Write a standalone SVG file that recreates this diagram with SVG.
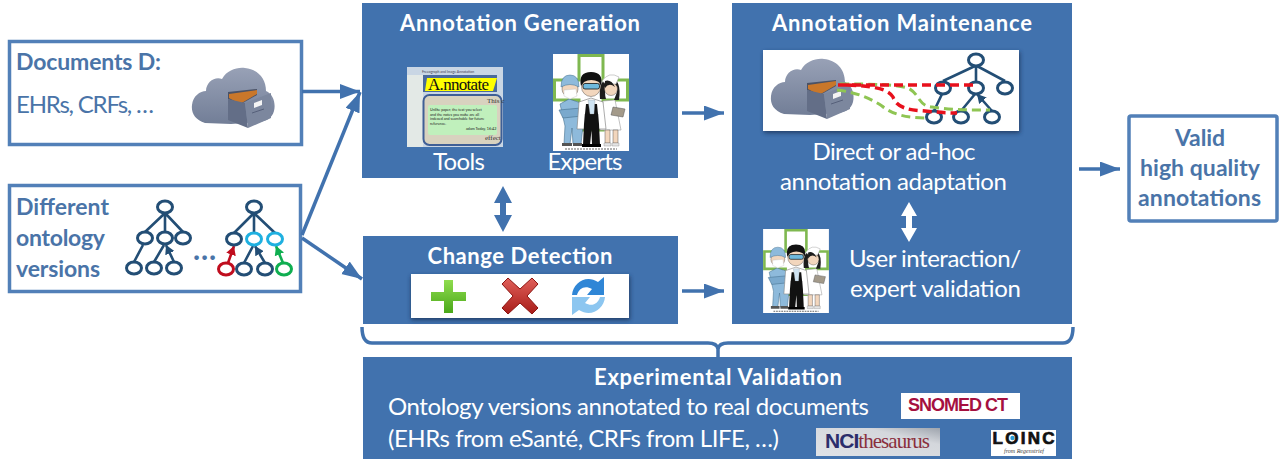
<svg xmlns="http://www.w3.org/2000/svg" xmlns:xlink="http://www.w3.org/1999/xlink" width="1284" height="467" viewBox="0 0 1284 467">
<style>
text{font-family:"Lato","Open Sans","Liberation Sans",sans-serif}
.blue{fill:#4172ae}
.out{fill:#fff;stroke:#5280b8;stroke-width:3.5}
.h{fill:#fff;font-weight:700;font-size:22px;text-anchor:middle}
.w{fill:#fff;font-size:24px}
.wm{fill:#fff;font-size:24px;text-anchor:middle}
.bl{fill:#4a74a8;font-weight:700;font-size:23px}
.rg{fill:#4a74a8;font-size:24px}
.cn{fill:none;stroke:#4172ae;stroke-width:3.5}
.tn{fill:#fff;stroke:#234e75;stroke-width:3}
.ed{fill:none;stroke:#234e75;stroke-width:2.6;marker-end:url(#t)}
.dr{fill:none;stroke:#e8101c;stroke-width:3.5;stroke-dasharray:9 5}
.dg{fill:none;stroke:#8fc553;stroke-width:3;stroke-dasharray:9 5}
.sk{fill:#f2d6bd;stroke:#333;stroke-width:.4}
</style>
<defs>
<marker id="a" markerUnits="userSpaceOnUse" markerWidth="22" markerHeight="16" refX="20" refY="7.500" orient="auto"><path d="M0 0L20 7.500L0 15Z" fill="#4172ae"/></marker>
<marker id="t" markerUnits="userSpaceOnUse" markerWidth="10" markerHeight="10" refX="9" refY="5" orient="auto"><path d="M0 0L9 5L0 10Z" fill="#234e75"/></marker>
<marker id="tr" markerUnits="userSpaceOnUse" markerWidth="10" markerHeight="10" refX="9" refY="5" orient="auto"><path d="M0 0L9 5L0 10Z" fill="#c00d1e"/></marker>
<marker id="tg" markerUnits="userSpaceOnUse" markerWidth="10" markerHeight="10" refX="9" refY="5" orient="auto"><path d="M0 0L9 5L0 10Z" fill="#0fae50"/></marker>
<filter id="sh" x="-10%" y="-20%" width="120%" height="140%"><feGaussianBlur stdDeviation="2"/></filter>
<linearGradient id="gc" x1="0" y1="0" x2="0" y2="1"><stop offset="0" stop-color="#98a1b6"/><stop offset="1" stop-color="#727e97"/></linearGradient>
<linearGradient id="gp" x1="0" y1="0" x2="0" y2="1"><stop offset="0" stop-color="#8fdc4e"/><stop offset="1" stop-color="#4aa81a"/></linearGradient>
<linearGradient id="gx" x1="0" y1="0" x2="0" y2="1"><stop offset="0" stop-color="#e0605a"/><stop offset="1" stop-color="#a81c18"/></linearGradient>
<linearGradient id="gn" x1="0" y1="1" x2="1" y2="0"><stop offset="0" stop-color="#dfe2e6"/><stop offset=".7" stop-color="#d4d7dc"/><stop offset="1" stop-color="#9ea4ad"/></linearGradient>
<symbol id="cloud" viewBox="0 0 85 63" overflow="visible">
<path d="M14 56C4 53 0 46 1 38C2 29 9 24 15 24C15 15 24 9 31 12C36 3 46 0 54 1C66 2 75 11 75 24C82 27 85 36 83 44C81 51 76 54 68 55L40 57Z" fill="url(#gc)"/>
<path d="M37 25L66 22V28L50 37L37 32Z" fill="#4a5266"/>
<path d="M38 27L66 23V27L49 37L38 31Z" fill="#c9772a"/>
<path d="M37 32L54 36L57 61L37 53Z" fill="#636e87"/>
<path d="M54 36L80 26V51L57 61Z" fill="#7c879e"/>
<path d="M63 36L71 33V38L63 41Z" fill="#f4f4f4"/>
<path d="M61 46L73 42" stroke="#56607a" stroke-width="1"/>
</symbol>
<symbol id="docs" viewBox="0 0 76 97" overflow="visible">
<rect width="76" height="97" fill="#fff"/>
<path d="M26 1.500H50V26H74.500V46H50V76H26V46H1.500V26H26Z" fill="#fff" stroke="#7fb850" stroke-width="3"/>
<path d="M7 50L16 45L28 49L30 72L28 90H20L19 74L17 90H11L12 72Z" fill="#8ebadb" stroke="#44708f" stroke-width=".6"/>
<path d="M6 56L28 54L29 62L10 64Z" fill="#7aa9cd" stroke="#44708f" stroke-width=".6"/>
<circle class="sk" cx="17" cy="35" r="8"/><path d="M8 33Q8 21 17 21Q26 21 26 33Q17 28 8 33Z" fill="#8ebadb" stroke="#44708f" stroke-width=".5"/>
<path d="M11 36L23 35L24 42L17 45L11 42Z" fill="#fff" stroke="#bbb" stroke-width=".4"/>
<path d="M9 89H19V92H9ZM20 89H29V92H20Z" fill="#555"/>
<path d="M50 47L62 46L68 76H47Z" fill="#fff" stroke="#999" stroke-width=".6"/>
<path class="sk" d="M52 76H57V89H52ZM60 76H65V89H60Z"/>
<path d="M51 89H58V92H51ZM59 89H66V92H59Z" fill="#e4e4e4" stroke="#888" stroke-width=".4"/>
<path d="M47 45Q45 25 57 24Q69 25 66 46H61L64 38Q60 30 53 32Q51 38 53 45Z" fill="#1c1c1c"/>
<circle class="sk" cx="58" cy="35" r="6.500"/>
<path d="M49 27Q56 17 66 23L63 30H53Z" fill="#fff" stroke="#999" stroke-width=".5"/>
<path d="M52 27Q58 25 62 33Q56 28 52 34Z" fill="#1c1c1c"/>
<path d="M60 53L72 55L70 63L58 61Z" fill="#a39a8a" stroke="#555" stroke-width=".5"/>
<path d="M26 48L38 44L50 48L53 75H45V60H32V75H24Z" fill="#fff" stroke="#888" stroke-width=".7"/>
<path d="M33 50H44L46 70L47 91H39L38.500 76L37 91H30L31 70Z" fill="#111"/>
<path d="M35 46H42L41 60H37Z" fill="#cfe4f3" stroke="#888" stroke-width=".3"/>
<path d="M29 90H39V93H29ZM39 90H48V93H39Z" fill="#000"/>
<circle class="sk" cx="38" cy="33" r="9.500"/>
<path d="M28 32Q25 18 38 18Q51 18 48 32L46 28Q38 24 31 28Z" fill="#111"/>
<rect x="30" y="29.500" width="16.500" height="5.500" rx="2" fill="#6fb9dd" stroke="#111" stroke-width=".8"/>
<path d="M12 95H64" stroke="#666" stroke-width="1.200" stroke-dasharray="2 1"/>
</symbol>
</defs>

<g id="documents">
<rect class="out" x="9.500" y="41.500" width="292" height="103"/>
<text class="bl" x="16" y="70" textLength="145">Documents D:</text>
<text class="rg" x="16" y="113" textLength="138">EHRs, CRFs, …</text>
<use xlink:href="#cloud" href="#cloud" x="191" y="67" width="85" height="63"/>
</g>

<g id="ontology-versions">
<rect class="out" x="9.500" y="185.500" width="291" height="106"/>
<text class="bl" x="16" y="215" textLength="93">Different</text>
<text class="bl" x="16" y="246" textLength="89">ontology</text>
<text class="bl" x="16" y="277" textLength="84">versions</text>
<path class="ed" d="M145 232L164 214M165 232V214M183 232L166 214M134 262L143 245M154 262L164 245M174 262L166 245"/>
<ellipse class="tn" cx="165" cy="207" rx="7.500" ry="6"/><ellipse class="tn" cx="145" cy="238" rx="7.500" ry="6"/><ellipse class="tn" cx="165" cy="238" rx="7.500" ry="6"/><ellipse class="tn" cx="183" cy="238" rx="7.500" ry="6"/><ellipse class="tn" cx="134" cy="268" rx="7.500" ry="6"/><ellipse class="tn" cx="154" cy="268" rx="7.500" ry="6"/><ellipse class="tn" cx="174" cy="268" rx="7.500" ry="6"/>
<text x="204.500" y="260" fill="#4a74a8" font-size="30" font-weight="700" text-anchor="middle">…</text>
<path class="ed" d="M234 233L253 214M254 233V214M275 233L255 214M244 263L253 246M265 263L255 246"/>
<path d="M228 263L234 246" fill="none" stroke="#c00d1e" stroke-width="2.600" marker-end="url(#tr)"/>
<path d="M283 263L276 246" fill="none" stroke="#0fae50" stroke-width="2.600" marker-end="url(#tg)"/>
<ellipse class="tn" cx="254" cy="207" rx="7.500" ry="6"/><ellipse class="tn" cx="234" cy="239" rx="7.500" ry="6"/>
<ellipse cx="254" cy="239" rx="7.500" ry="6" fill="#fff" stroke="#1fb0e0" stroke-width="3"/><ellipse cx="275" cy="239" rx="7.500" ry="6" fill="#fff" stroke="#1fb0e0" stroke-width="3"/>
<ellipse cx="226" cy="269" rx="7.500" ry="6" fill="#fff" stroke="#c00d1e" stroke-width="3"/><ellipse class="tn" cx="244" cy="269" rx="7.500" ry="6"/><ellipse class="tn" cx="265" cy="269" rx="7.500" ry="6"/><ellipse cx="284" cy="269" rx="7.500" ry="6" fill="#fff" stroke="#0fae50" stroke-width="3"/>
</g>

<g id="annotation-generation">
<rect class="blue" x="362" y="3" width="316" height="175"/>
<text class="h" x="520" y="31" textLength="240">Annotation  Generation</text>
<rect x="407" y="67" width="96" height="80" fill="#c9d6e4"/>
<rect x="407" y="75" width="16" height="72" fill="#e3e9e6"/>
<text x="422" y="72.500" font-size="3.500" fill="#445">Freeograph and Image Annotation</text>
<rect x="423" y="75" width="74" height="17" fill="#4a6a9c"/>
<path d="M427 78H497L493 91H425Z" fill="#ffff00"/>
<text x="428" y="90" font-size="17" textLength="61" style="font-family:'Liberation Serif',serif" fill="#111">A.nnotate</text>
<rect x="423.500" y="95" width="78" height="50" rx="6" fill="#d8d2bf" stroke="#3f5f96" stroke-width="2"/>
<rect x="428" y="105" width="69" height="30" rx="2" fill="#c0f0bc"/>
<text x="487" y="103" font-size="7" fill="#333" style="font-family:'Liberation Serif',serif">This c</text>
<text x="485" y="140" font-size="7" fill="#333" style="font-family:'Liberation Serif',serif">effect</text>
<text font-size="3.700" fill="#222"><tspan x="430" y="111">Unlike paper, the text you select</tspan><tspan x="430" y="115.500">and the notes you make are all</tspan><tspan x="430" y="120">indexed and searchable for future</tspan><tspan x="430" y="124.500">reference.</tspan><tspan x="466" y="130">adam Today, 16:42</tspan></text>
<use xlink:href="#docs" href="#docs" x="553" y="54" width="76" height="97"/>
<text class="wm" x="459" y="170" textLength="52">Tools</text>
<text class="wm" x="585" y="170" textLength="75">Experts</text>
</g>

<g id="change-detection">
<rect class="blue" x="363" y="236" width="315" height="88"/>
<text class="h" x="520" y="264" textLength="185">Change Detection</text>
<rect x="411" y="276" width="219" height="44" fill="#1a365c" opacity=".85" filter="url(#sh)"/>
<rect x="411" y="274" width="218" height="44" fill="#fff"/>
<path d="M444 280H453V292H466V301H453V313H444V301H431V292H444Z" fill="url(#gp)"/>
<path d="M508 278L520 289L532 278L538 284L527 296L538 308L532 314L520 303L508 314L502 308L513 296L502 284Z" fill="url(#gx)" stroke="#8c1512" stroke-width="1"/>
<path d="M572 295C573 283 586 274 598 282L604 277V295H587L592 289C585 285 579 288 577 295Z" fill="#2f86d6"/>
<path d="M605 297C604 309 591 318 579 310L572 315V297H590L585 303C592 307 598 304 600 297Z" fill="#8cc6f0"/>
</g>

<g id="annotation-maintenance">
<rect class="blue" x="732" y="3" width="340" height="321"/>
<text class="h" x="902" y="31" textLength="260">Annotation  Maintenance</text>
<rect x="764" y="52" width="256" height="81" fill="#1a365c" opacity=".85" filter="url(#sh)"/>
<rect x="763" y="50" width="256" height="81" fill="#fff"/>
<use xlink:href="#cloud" href="#cloud" x="770" y="58" width="85" height="63"/>
<path class="ed" d="M943 81L975 66M976 81V66M1005 81L977 66M934 111L942 94M961 111L975 94M992 111L977 94"/>
<ellipse class="tn" cx="976" cy="60" rx="7.500" ry="6"/><ellipse class="tn" cx="943" cy="88" rx="7.500" ry="6"/><ellipse class="tn" cx="976" cy="88" rx="7.500" ry="6"/><ellipse class="tn" cx="1005" cy="88" rx="7.500" ry="6"/><ellipse class="tn" cx="934" cy="117" rx="7.500" ry="6"/><ellipse class="tn" cx="961" cy="117" rx="7.500" ry="6"/><ellipse class="tn" cx="992" cy="117" rx="7.500" ry="6"/>
<path class="dg" d="M840 84C870 84 895 84 908 88C920 94 918 106 932 107C950 110 970 110 990 110"/>
<path class="dg" d="M837 90C855 92 870 98 882 106C892 114 905 118 927 118"/>
<path class="dr" d="M838 85H975"/>
<path class="dr" d="M847 85C870 86 888 88 893 97C897 108 908 110 925 111C935 112 945 113 957 113"/>
<text class="wm" x="894" y="160" textLength="163">Direct or ad-hoc</text>
<text class="wm" x="893.500" y="190" textLength="227">annotation adaptation</text>
<use xlink:href="#docs" href="#docs" x="763" y="229" width="66" height="84" preserveAspectRatio="none"/>
<text class="wm" x="935" y="267" textLength="172">User interaction/</text>
<text class="wm" x="935.500" y="297" textLength="171">expert validation</text>
</g>

<g id="valid-annotations">
<rect class="out" x="1129" y="116" width="148" height="105" rx="2"/>
<text class="bl" x="1175" y="146" textLength="50">Valid</text>
<text class="bl" x="1140" y="176" textLength="120">high quality</text>
<text class="bl" x="1138" y="206" textLength="123">annotations</text>
</g>

<g id="experimental-validation">
<rect class="blue" x="363" y="357" width="709" height="102"/>
<text class="h" x="718" y="385" textLength="248">Experimental  Validation</text>
<text class="w" x="388" y="415" textLength="481">Ontology versions annotated to real documents</text>
<text class="w" x="388" y="447" textLength="391">(EHRs from eSanté,  CRFs  from LIFE, …)</text>
<rect x="901" y="393" width="119" height="26" fill="#fff"/>
<text x="958" y="411" fill="#a5103f" font-size="18" font-weight="700" text-anchor="middle" textLength="100" style="font-family:'Liberation Sans',sans-serif">SNOMED CT</text>
<rect x="816" y="428" width="124" height="28" fill="url(#gn)"/>
<text x="825" y="448" font-size="21" textLength="105"><tspan fill="#2b2d6b" font-weight="700" style="font-family:'Liberation Sans',sans-serif">NCI</tspan><tspan fill="#8a2f3d" style="font-family:'Liberation Serif',serif">thesaurus</tspan></text>
<rect x="991" y="430" width="65" height="26" fill="#fff"/>
<text x="1023.500" y="444" fill="#111" font-size="17" font-weight="700" text-anchor="middle" textLength="62" style="font-family:'Liberation Sans',sans-serif;stroke:#111;stroke-width:.7">LOINC</text>
<circle cx="1012.500" cy="438" r="2.200" fill="#2b9bd6"/>
<text x="1024" y="453" fill="#444" font-size="6" font-style="italic" text-anchor="middle" style="font-family:'Liberation Serif',serif">from Regenstrief</text>
</g>

<g id="connectors">
<path class="cn" d="M302 91.500H360" marker-end="url(#a)"/>
<path class="cn" d="M302 235L360 92" marker-end="url(#a)"/>
<path class="cn" d="M302 238L362 279" marker-end="url(#a)"/>
<path class="cn" d="M682 113H724" marker-end="url(#a)"/>
<path class="cn" d="M682 291H724" marker-end="url(#a)"/>
<path class="cn" d="M1079 169H1120" marker-end="url(#a)"/>
<path d="M503 186L512 203H506V215H512L503 232L494 215H500V203H494Z" fill="#4172ae"/>
<path d="M909 202L917 216H912V228H917L909 242L901 228H906V216H901Z" fill="#fff"/>
<path d="M362 327Q362 343 372 343H708Q717 343 718 349Q719 343 728 343H1063Q1073 343 1073 327M718 345V357" fill="none" stroke="#4172ae" stroke-width="3.500"/>
</g>
</svg>
